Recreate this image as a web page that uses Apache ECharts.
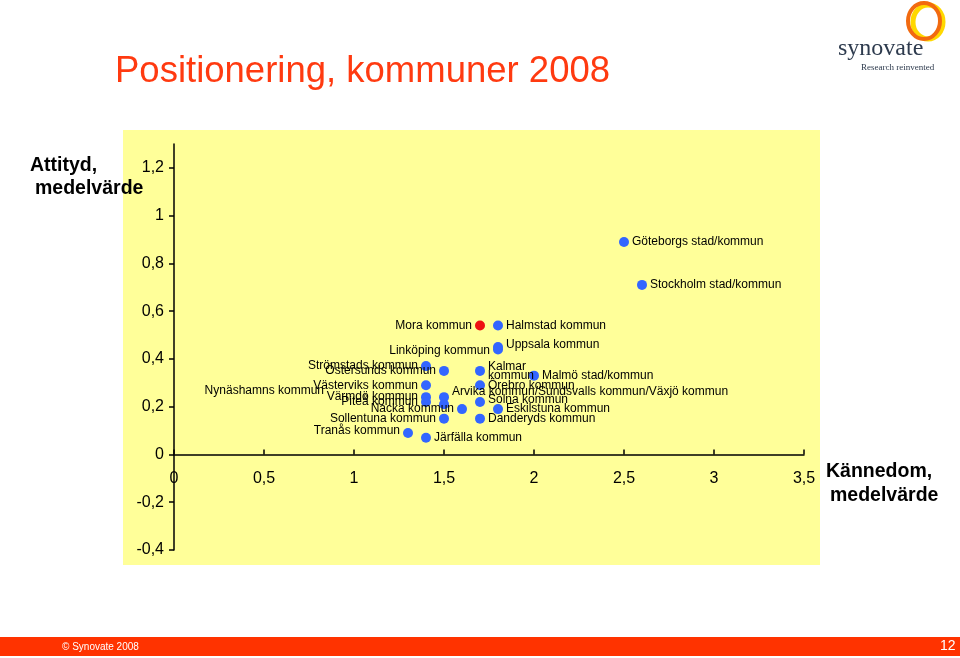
<!DOCTYPE html>
<html>
<head>
<meta charset="utf-8">
<script src="https://cdn.jsdelivr.net/npm/echarts@6/dist/echarts.min.js"></script>
<style>
  html, body { margin: 0; padding: 0; background: #fff; }
  #chart { width: 960px; height: 658px; }
</style>
</head>
<body>
<div id="chart"></div>
<script>
// kommuner (blue points)
const names = [
  'Halmstad kommun', 'Uppsala kommun', 'Linköping kommun', 'Strömstads kommun',
  'Östersunds kommun', 'Kalmar\nkommun', 'Malmö stad/kommun', 'Västerviks kommun',
  'Örebro kommun', 'Värmdö kommun', 'Piteå kommun',
  'Arvika kommun/Sundsvalls kommun/Växjö kommun', 'Nynäshamns kommun',
  'Solna kommun', 'Nacka kommun', 'Eskilstuna kommun', 'Sollentuna kommun',
  'Danderyds kommun', 'Tranås kommun', 'Järfälla kommun',
  'Göteborgs stad/kommun', 'Stockholm stad/kommun'
];
const kannedom = [1.8, 1.8, 1.8, 1.4, 1.5, 1.7, 2.0, 1.4, 1.7, 1.4, 1.4, 1.5, 1.5, 1.7, 1.6, 1.8, 1.5, 1.7, 1.3, 1.4, 2.5, 2.6];
const attityd  = [0.54, 0.45, 0.44, 0.37, 0.35, 0.35, 0.33, 0.29, 0.29, 0.24, 0.22, 0.24, 0.21, 0.22, 0.19, 0.19, 0.15, 0.15, 0.09, 0.07, 0.89, 0.71];

// highlighted (red point)
const redNames = ['Mora kommun'];
const redKannedom = [1.7];
const redAttityd = [0.54];

const xTicks = [0, 0.5, 1, 1.5, 2, 2.5, 3, 3.5];
const yTicks = [-0.4, -0.2, 0, 0.2, 0.4, 0.6, 0.8, 1, 1.2];

// label placement (left side / offset) per kommun
const leftSide = ['Linköping kommun', 'Strömstads kommun', 'Östersunds kommun', 'Västerviks kommun',
  'Värmdö kommun', 'Piteå kommun', 'Nynäshamns kommun', 'Nacka kommun', 'Sollentuna kommun',
  'Tranås kommun', 'Mora kommun'];
const labelOffset = {
  'Uppsala kommun': [0, -2],
  'Linköping kommun': [0, 1],
  'Arvika kommun/Sundsvalls kommun/Växjö kommun': [0, -5],
  'Nynäshamns kommun': [-112, -14],
  'Solna kommun': [0, -2],
  'Tranås kommun': [0, -2]
};

const fmt = v => String(v).replace('.', ',');
const font = 'Liberation Sans, Arial, sans-serif';

function buildPoints(nm, xs, ys) {
  return nm.map((n, i) => ({
    name: n,
    value: [xs[i], ys[i]],
    label: {
      position: leftSide.includes(n) ? 'left' : 'right',
      offset: labelOffset[n] || [0, 0]
    }
  }));
}

const chart = echarts.init(document.getElementById('chart'));
const labelStyle = {
  show: true,
  formatter: p => p.name,
  fontFamily: font,
  fontSize: 12,
  color: '#000',
  distance: 3,
  lineHeight: 9
};

chart.setOption({
  animation: false,
  backgroundColor: '#fff',
  textStyle: { fontFamily: font },
  graphic: [
    { type: 'rect', z: -10, shape: { x: 123, y: 130, width: 697, height: 435 }, style: { fill: '#FFFF99' } },
    { type: 'text', left: 115, top: 53, style: { text: 'Positionering, kommuner 2008', fill: '#FF3A10', font: '36.5px ' + font } },
    { type: 'text', left: 30, top: 156, style: { text: 'Attityd,', fill: '#000', font: 'bold 19.5px ' + font } },
    { type: 'text', left: 35, top: 179, style: { text: 'medelvärde', fill: '#000', font: 'bold 19.5px ' + font } },
    { type: 'text', left: 826, top: 462, style: { text: 'Kännedom,', fill: '#000', font: 'bold 19.5px ' + font } },
    { type: 'text', left: 830, top: 486, style: { text: 'medelvärde', fill: '#000', font: 'bold 19.5px ' + font } },
    // logo
    { type: 'ellipse', shape: { cx: 928, cy: 22, rx: 15, ry: 17 }, style: { fill: 'none', stroke: '#FFD800', lineWidth: 5 } },
    { type: 'ellipse', shape: { cx: 924, cy: 21, rx: 16, ry: 18 }, style: { fill: 'none', stroke: '#F26A10', lineWidth: 4 } },
    { type: 'text', left: 838, top: 37, style: { text: 'synovate', fill: '#2E3B4E', font: '24px Liberation Serif, serif' } },
    { type: 'text', left: 861, top: 63, style: { text: 'Research reinvented', fill: '#2E3B4E', font: '9px Liberation Serif, serif' } },
    // footer
    { type: 'rect', shape: { x: 0, y: 637, width: 960, height: 19 }, style: { fill: '#FF3300' } },
    { type: 'text', left: 62, top: 642, style: { text: '© Synovate 2008', fill: '#fff', font: '10px ' + font } },
    { type: 'text', left: 940, top: 639, style: { text: '12', fill: '#fff', font: '14px ' + font } }
  ],
  grid: { left: 174, right: 156, top: 144, bottom: 108 },
  xAxis: {
    type: 'value',
    min: 0,
    max: 3.5,
    interval: 0.5,
    offset: -95.5,
    axisLine: { onZero: false, lineStyle: { color: '#000', width: 1.5 } },
    axisTick: { inside: true, length: 5, lineStyle: { color: '#000', width: 1.5 }, customValues: xTicks },
    axisLabel: { color: '#000', fontSize: 16, margin: 16, formatter: fmt, customValues: xTicks, showMinLabel: true, showMaxLabel: true },
    splitLine: { show: false }
  },
  yAxis: {
    type: 'value',
    min: -0.4,
    max: 1.3,
    interval: 0.2,
    axisLine: { show: true, onZero: false, lineStyle: { color: '#000', width: 1.5 } },
    axisTick: { show: true, length: 5, lineStyle: { color: '#000', width: 1.5 }, customValues: yTicks },
    axisLabel: { color: '#000', fontSize: 16, margin: 10, formatter: fmt, customValues: yTicks },
    splitLine: { show: false }
  },
  series: [
    {
      type: 'scatter',
      symbolSize: 10,
      itemStyle: { color: '#3366FF', opacity: 1 },
      label: labelStyle,
      data: buildPoints(names, kannedom, attityd)
    },
    {
      type: 'scatter',
      symbolSize: 10,
      itemStyle: { color: '#EE1111', opacity: 1 },
      label: labelStyle,
      data: buildPoints(redNames, redKannedom, redAttityd)
    }
  ]
});
</script>
</body>
</html>
